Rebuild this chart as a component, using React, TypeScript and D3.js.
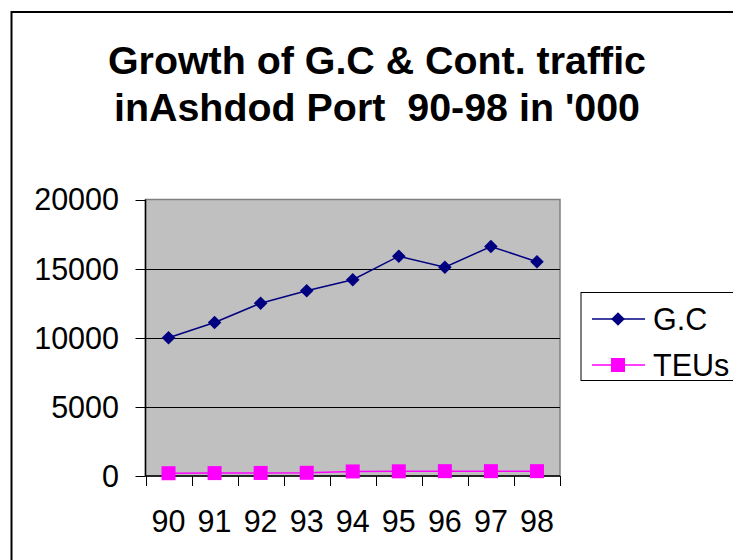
import * as d3 from 'd3';

const YEARS = ['90', '91', '92', '93', '94', '95', '96', '97', '98'];
const GC_VALUES = [10000, 11100, 12500, 13400, 14200, 15900, 15100, 16600, 15500];
const TEU_VALUES = [200, 210, 220, 230, 330, 340, 350, 350, 350];
const Y_TICKS = [0, 5000, 10000, 15000, 20000];
const TITLE_LINES = ["Growth of G.C & Cont. traffic", "inAshdod Port  90-98 in '000"];
const SERIES_NAMES = ['G.C', 'TEUs'];

const WIDTH = 733;
const HEIGHT = 560;
const PLOT = { left: 145.5, right: 560, top: 199.5, bottom: 476 };
const FONT = '"Liberation Sans", Arial, sans-serif';

const GC_COLOR = '#000080';
const TEU_COLOR = '#ff00ff';

const diamond = (cx: number, cy: number, r: number) =>
  `M${cx},${cy - r}L${cx + r},${cy}L${cx},${cy + r}L${cx - r},${cy}Z`;

const App = () => {
  const xScale = d3.scaleBand().domain(YEARS).range([PLOT.left, PLOT.right]);
  const yScale = d3.scaleLinear().domain([0, 20000]).range([PLOT.bottom, PLOT.top]);

  const cx = (year: string) => (xScale(year) ?? 0) + xScale.bandwidth() / 2;

  const line = d3
    .line<number>()
    .x((_, i) => cx(YEARS[i]))
    .y(d => yScale(d));

  // legend rows
  const legendRows = [
    { name: SERIES_NAMES[0], color: GC_COLOR, y: 319, shape: 'diamond' },
    { name: SERIES_NAMES[1], color: TEU_COLOR, y: 365, shape: 'square' },
  ];

  return (
    <svg
      width={WIDTH}
      height={HEIGHT}
      style={{ position: 'absolute', left: 0, top: 0, background: 'white' }}
    >
      {/* outer chart border */}
      <rect x={11.5} y={12} width={760} height={600} fill="white" stroke="black" strokeWidth={2} />

      {/* title */}
      {TITLE_LINES.map((t, i) => (
        <text
          key={`title-${i}`}
          x={377}
          y={74 + i * 47}
          textAnchor="middle"
          fontFamily={FONT}
          fontWeight="bold"
          fontSize={39}
          textLength={i === 0 ? 538 : 526}
          lengthAdjust="spacingAndGlyphs"
          style={{ whiteSpace: 'pre' }}
        >
          {t}
        </text>
      ))}

      {/* plot area */}
      <rect
        x={PLOT.left}
        y={PLOT.top}
        width={PLOT.right - PLOT.left}
        height={PLOT.bottom - PLOT.top}
        fill="#c0c0c0"
        stroke="#808080"
        strokeWidth={1.5}
      />

      {/* gridlines */}
      {Y_TICKS.filter(v => v > 0 && v < 20000).map(v => (
        <line
          key={`grid-${v}`}
          x1={PLOT.left}
          x2={PLOT.right}
          y1={Math.round(yScale(v)) + 0.5}
          y2={Math.round(yScale(v)) + 0.5}
          stroke="black"
          strokeWidth={1}
        />
      ))}

      {/* y axis */}
      <line x1={PLOT.left} x2={PLOT.left} y1={PLOT.top} y2={PLOT.bottom} stroke="black" strokeWidth={1.5} />
      {Y_TICKS.map(v => (
        <g key={`ytick-${v}`}>
          <line
            x1={PLOT.left - 10}
            x2={PLOT.left}
            y1={Math.round(yScale(v)) + 0.5}
            y2={Math.round(yScale(v)) + 0.5}
            stroke="black"
          />
          <text
            x={119}
            y={yScale(v)}
            dy="0.36em"
            textAnchor="end"
            fontFamily={FONT}
            fontSize={30.5}
          >
            {v}
          </text>
        </g>
      ))}

      {/* x axis */}
      <line x1={PLOT.left} x2={PLOT.right} y1={PLOT.bottom} y2={PLOT.bottom} stroke="black" strokeWidth={1.5} />
      {[...YEARS.map(y => xScale(y) ?? 0), PLOT.right].map((x, i) => (
        <line
          key={`xtick-${i}`}
          x1={Math.round(x) + 0.5}
          x2={Math.round(x) + 0.5}
          y1={PLOT.bottom}
          y2={PLOT.bottom + 10}
          stroke="black"
        />
      ))}
      {YEARS.map(y => (
        <text
          key={`xlabel-${y}`}
          x={cx(y)}
          y={532}
          textAnchor="middle"
          fontFamily={FONT}
          fontSize={30.5}
        >
          {y}
        </text>
      ))}

      {/* series */}
      <path d={line(TEU_VALUES) ?? ''} fill="none" stroke={TEU_COLOR} strokeWidth={1.5} />
      {TEU_VALUES.map((v, i) => (
        <rect
          key={`teu-${i}`}
          x={cx(YEARS[i]) - 7}
          y={yScale(v) - 7}
          width={14}
          height={14}
          fill={TEU_COLOR}
        />
      ))}
      <path d={line(GC_VALUES) ?? ''} fill="none" stroke={GC_COLOR} strokeWidth={1.5} />
      {GC_VALUES.map((v, i) => (
        <path key={`gc-${i}`} d={diamond(cx(YEARS[i]), yScale(v), 6.8)} fill={GC_COLOR} />
      ))}

      {/* legend */}
      <rect x={581} y={292.5} width={200} height={88} fill="white" stroke="black" strokeWidth={1} />
      {legendRows.map(r => (
        <g key={`legend-${r.name}`}>
          <line x1={592} x2={645} y1={r.y} y2={r.y} stroke={r.color} strokeWidth={1.5} />
          {r.shape === 'diamond' ? (
            <path d={diamond(618, r.y, 6.8)} fill={r.color} />
          ) : (
            <rect x={611} y={r.y - 7} width={14} height={14} fill={r.color} />
          )}
          <text x={653} y={r.y} dy="0.36em" fontFamily={FONT} fontSize={30.5}>
            {r.name}
          </text>
        </g>
      ))}
    </svg>
  );
};

export default App;
